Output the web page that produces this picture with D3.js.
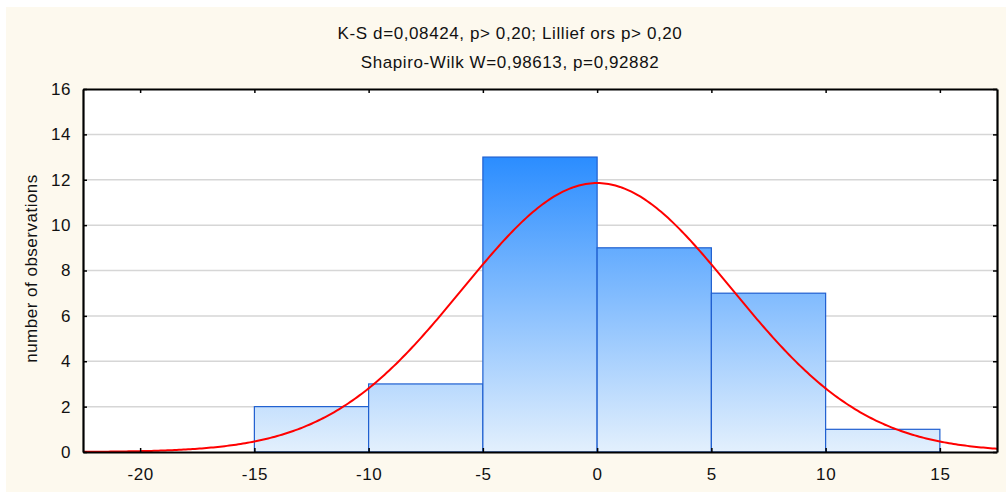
<!DOCTYPE html>
<html>
<head>
<meta charset="utf-8">
<script src="https://cdn.jsdelivr.net/npm/d3@7"></script>
<style>
  body { margin: 0; background: #fff; }
  text { font-family: "Liberation Sans", Arial, sans-serif; fill: #111; }
</style>
</head>
<body>
<script>

// histogram bins (width 5) and counts
var binStarts = [-15, -10, -5, 0, 5, 10]
var binWidth = 5
var counts = [2, 3, 13, 9, 7, 1]

// fitted normal curve parameters
var fitMean = 0
var fitSd = 5.89

var xTicks = [-20, -15, -10, -5, 0, 5, 10, 15]
var yTicks = [0, 2, 4, 6, 8, 10, 12, 14, 16]

var titleLines = ["K-S d=0,08424, p> 0,20; Lillief ors p> 0,20",
                  "Shapiro-Wilk W=0,98613, p=0,92882"]
var yLabel = "number of observations"

var svgWidth = 1006
var svgHeight = 493
var plot = {left: 83, top: 89, right: 997, bottom: 452}

var svg = d3.select("body").append("svg")
            .attr("width", svgWidth)
            .attr("height", svgHeight)

svg.append("rect")
   .attr("x", 6).attr("y", 7)
   .attr("width", svgWidth - 6).attr("height", 485)
   .style("fill", "#fdf9ee")

var x = d3.scaleLinear().domain([-22.5, 17.5]).range([plot.left, plot.right])
var y = d3.scaleLinear().domain([0, 16]).range([plot.bottom, plot.top])

var defs = svg.append("defs")
var grad = defs.append("linearGradient")
               .attr("id", "barGrad")
               .attr("gradientUnits", "userSpaceOnUse")
               .attr("x1", 0).attr("x2", 0)
               .attr("y1", y(13)).attr("y2", y(0))
grad.append("stop").attr("offset", 0).attr("stop-color", "#2b8dff")
grad.append("stop").attr("offset", 1).attr("stop-color", "#e3f0fd")

defs.append("clipPath").attr("id", "plotClip")
    .append("rect")
    .attr("x", plot.left).attr("y", plot.top)
    .attr("width", plot.right - plot.left)
    .attr("height", plot.bottom - plot.top)

// plot background
svg.append("rect")
   .attr("x", plot.left).attr("y", plot.top)
   .attr("width", plot.right - plot.left)
   .attr("height", plot.bottom - plot.top)
   .style("fill", "white")

// grid lines
svg.append("g").selectAll("line")
   .data(yTicks.filter(function(d){ return d > 0 && d < 16 }))
   .enter().append("line")
   .attr("x1", plot.left).attr("x2", plot.right)
   .attr("y1", function(d){ return y(d) })
   .attr("y2", function(d){ return y(d) })
   .style("stroke", "#d6d6d6")
   .style("stroke-width", 1.5)

// bars
svg.append("g").selectAll("rect")
   .data(counts)
   .enter().append("rect")
   .attr("x", function(d, i){ return x(binStarts[i]) })
   .attr("y", function(d){ return y(d) })
   .attr("width", function(d, i){ return x(binStarts[i] + binWidth) - x(binStarts[i]) })
   .attr("height", function(d){ return y(0) - y(d) })
   .style("fill", "url(#barGrad)")
   .style("stroke", "#1f5fd0")
   .style("stroke-width", 1.2)

// normal curve: N * binWidth * pdf
var nObs = d3.sum(counts)
var curveX = d3.range(-22.5, 17.51, 0.1)
var line = d3.line()
             .x(function(d){ return x(d) })
             .y(function(d){
               var z = (d - fitMean) / fitSd
               return y(nObs * binWidth * Math.exp(-0.5 * z * z) / (fitSd * Math.sqrt(2 * Math.PI)))
             })

svg.append("path")
   .datum(curveX)
   .attr("d", line)
   .attr("clip-path", "url(#plotClip)")
   .style("fill", "none")
   .style("stroke", "#ff0000")
   .style("stroke-width", 2)

// axes (ticks inward), plain hyphen for negatives
var plain = function(d){ return String(d) }
var bottomAxis = d3.axisBottom(x).tickValues(xTicks).tickFormat(plain).tickSizeInner(-4).tickSizeOuter(0).tickPadding(16)
var topAxis = d3.axisTop(x).tickValues(xTicks).tickSizeInner(-4).tickSizeOuter(0).tickFormat("")
var leftAxis = d3.axisLeft(y).tickValues(yTicks).tickFormat(plain).tickSizeInner(-4).tickSizeOuter(0).tickPadding(12)
var rightAxis = d3.axisRight(y).tickValues(yTicks).tickSizeInner(-4).tickSizeOuter(0).tickFormat("")

function styleAxis(g){
  g.select(".domain").style("stroke", "#000").style("stroke-width", 2.2)
  g.selectAll(".tick line").style("stroke", "#000").style("stroke-width", 1.5)
  g.selectAll(".tick text").style("font-size", "17px").style("fill", "#111")
   .style("letter-spacing", "0.6px")
   .style("font-family", "'Liberation Sans', Arial, sans-serif")
}

svg.append("g").attr("transform", "translate(0," + plot.bottom + ")").call(bottomAxis).call(styleAxis)
svg.append("g").attr("transform", "translate(0," + plot.top + ")").call(topAxis).call(styleAxis)
svg.append("g").attr("transform", "translate(" + plot.left + ",0)").call(leftAxis).call(styleAxis)
svg.append("g").attr("transform", "translate(" + plot.right + ",0)").call(rightAxis).call(styleAxis)

// titles
svg.selectAll(".title")
   .data(titleLines)
   .enter().append("text")
   .attr("class", "title")
   .attr("x", 510)
   .attr("y", function(d, i){ return 39 + i * 29 })
   .attr("text-anchor", "middle")
   .style("font-size", "17px")
   .style("letter-spacing", "0.6px")
   .text(function(d){ return d })

svg.append("text")
   .attr("transform", "translate(37," + ((plot.top + plot.bottom) / 2 - 2) + ") rotate(-90)")
   .attr("text-anchor", "middle")
   .style("font-size", "17px")
   .style("letter-spacing", "0.5px")
   .text(yLabel)

</script>
</body>
</html>
